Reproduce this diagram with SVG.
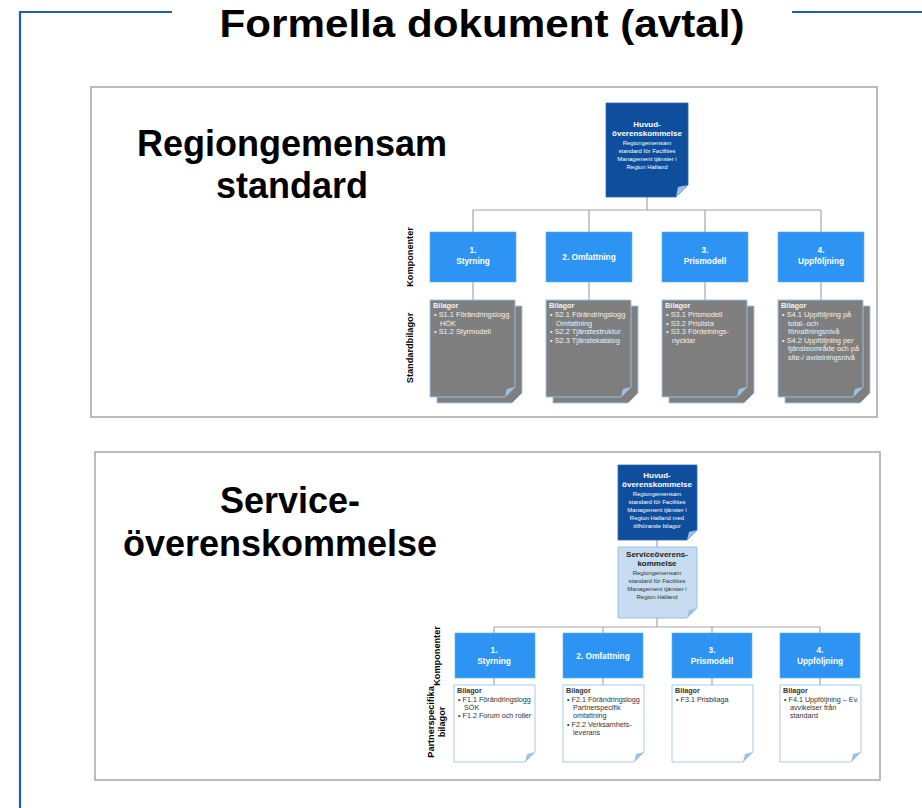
<svg xmlns="http://www.w3.org/2000/svg" width="922" height="808" viewBox="0 0 922 808">
<style>
text{font-family:"Liberation Sans",Arial,sans-serif}
.frame{fill:none;stroke:#1F5FAA;stroke-width:2.2}
.panel{fill:#fff;stroke:#A6A6A6;stroke-width:1.5}
.big{font-size:36px;font-weight:bold;fill:#000;text-anchor:middle}
.title{font-size:39px;font-weight:bold;fill:#000;text-anchor:middle}
.conn{fill:none;stroke:#A6A6A6;stroke-width:1.2}
.dark{fill:#0E4E9C;stroke:#2E6DB8;stroke-width:0.8}
.light{fill:#C6DCF0;stroke:#8DB4E2;stroke-width:0.8}
.fold{fill:#9CC2E8}
.comp{fill:#2E94F4;stroke:#5AAEF8;stroke-width:0.6}
.ct{font-size:8.3px;font-weight:bold;fill:#fff;text-anchor:middle}
.gray{fill:#7F7F7F;stroke:#9DC3E6;stroke-width:0.9}
.white{fill:#fff;stroke:#9DC3E6;stroke-width:0.9}
.gt{font-size:7.4px;fill:#F2F2F2}
.gtb{font-size:7.4px;fill:#F2F2F2;font-weight:bold}
.wt{font-size:7.2px;fill:#333}
.wtb{font-size:7.2px;fill:#333;font-weight:bold}
.mt1{font-size:8px;font-weight:bold;fill:#fff;text-anchor:middle}
.mt2{font-size:6px;fill:#fff;text-anchor:middle}
.lt1{font-size:8px;font-weight:bold;fill:#222;text-anchor:middle}
.lt2{font-size:6px;fill:#333;text-anchor:middle}
.side{font-size:9.2px;font-weight:bold;fill:#000;text-anchor:middle}
</style>

<path class="frame" d="M172,12 H20 V808 M792,12 H922"/>
<text class="title" x="482" y="37" textLength="525" lengthAdjust="spacingAndGlyphs">Formella dokument (avtal)</text>

<rect class="panel" x="91" y="87" width="786" height="330"/>
<rect class="panel" x="95" y="452" width="785" height="328"/>

<text class="big" x="292" y="156">Regiongemensam</text>
<text class="big" x="292" y="198">standard</text>
<text class="big" x="290" y="513" font-size="37">Service-</text>
<text class="big" x="280" y="556" font-size="38">överenskommelse</text>

<text class="side" transform="translate(413,257) rotate(-90)">Komponenter</text>
<text class="side" transform="translate(413,348) rotate(-90)" font-size="9.8">Standardbilagor</text>
<text class="side" transform="translate(440,656) rotate(-90)">Komponenter</text>
<text class="side" transform="translate(434,722) rotate(-90)" font-size="9.8">Partnerspecifika</text>
<text class="side" transform="translate(445,722) rotate(-90)" font-size="9.8">bilagor</text>

<g id="connectors">
<path class="conn" d="M647,197 V210 M473,210 H821 M473,210 V232 M589,210 V232 M705,210 V232 M821,210 V232"/>
<path class="conn" d="M473,282 V300 M589,282 V300 M705,282 V300 M821,282 V300"/>
<path class="conn" d="M657,540 V547 M657,618 V627 M494,627 H820 M494,627 V633 M603,627 V633 M712,627 V633 M820,627 V633"/>
<path class="conn" d="M494,678 V685 M603,678 V685 M712,678 V685 M820,678 V685"/>
</g>

<g id="main1">
<path class="dark" d="M606,103 H688 V185 L676,197 H606 Z"/>
<path class="fold" d="M676,197 L688,185 L678,187 Z"/>
<text class="mt1" x="647" y="127">Huvud-</text>
<text class="mt1" x="647" y="136">överenskommelse</text>
<text class="mt2" x="647" y="145">Regiongemensam</text>
<text class="mt2" x="647" y="153">standard för Facilities</text>
<text class="mt2" x="647" y="161">Management tjänster i</text>
<text class="mt2" x="647" y="169">Region Halland</text>
</g>

<g id="comp1-1"><rect class="comp" x="430" y="232" width="86" height="50"/><text class="ct" x="473" y="253">1.</text><text class="ct" x="473" y="264">Styrning</text></g>
<g id="comp1-2"><rect class="comp" x="546" y="232" width="86" height="50"/><text class="ct" x="589" y="260">2. Omfattning</text></g>
<g id="comp1-3"><rect class="comp" x="662" y="232" width="86" height="50"/><text class="ct" x="705" y="253">3.</text><text class="ct" x="705" y="264">Prismodell</text></g>
<g id="comp1-4"><rect class="comp" x="778" y="232" width="86" height="50"/><text class="ct" x="821" y="253">4.</text><text class="ct" x="821" y="264">Uppföljning</text></g>

<g id="std1">
<path class="gray" d="M437,306 H522 V393 L512,403 H437 Z"/>
<path class="gray" d="M430,300 H515 V387 L505,397 H430 Z"/>
<path class="fold" d="M505,397 L515,387 L507,389 Z"/>
<text class="gtb" x="433" y="308">Bilagor</text>
<text class="gt" x="434" y="317">•  S1.1 Förändringslogg</text>
<text class="gt" x="440" y="325.5">HÖK</text>
<text class="gt" x="434" y="334">•  S1.2 Styrmodell</text>
</g>
<g id="std2">
<path class="gray" d="M553,306 H638 V393 L628,403 H553 Z"/>
<path class="gray" d="M546,300 H631 V387 L621,397 H546 Z"/>
<path class="fold" d="M621,397 L631,387 L623,389 Z"/>
<text class="gtb" x="549" y="308">Bilagor</text>
<text class="gt" x="550" y="317">•  S2.1 Förändringslogg</text>
<text class="gt" x="556" y="325.5">Omfattning</text>
<text class="gt" x="550" y="334">•  S2.2 Tjänstestruktur</text>
<text class="gt" x="550" y="342.5">•  S2.3 Tjänstekatalog</text>
</g>
<g id="std3">
<path class="gray" d="M669,306 H754 V393 L744,403 H669 Z"/>
<path class="gray" d="M662,300 H747 V387 L737,397 H662 Z"/>
<path class="fold" d="M737,397 L747,387 L739,389 Z"/>
<text class="gtb" x="665" y="308">Bilagor</text>
<text class="gt" x="666" y="317">•  S3.1 Prismodell</text>
<text class="gt" x="666" y="325.5">•  S3.2 Prislista</text>
<text class="gt" x="666" y="334">•  S3.3 Fördelnings-</text>
<text class="gt" x="672" y="342.5">nycklar</text>
</g>
<g id="std4">
<path class="gray" d="M785,306 H870 V393 L860,403 H785 Z"/>
<path class="gray" d="M778,300 H863 V387 L853,397 H778 Z"/>
<path class="fold" d="M853,397 L863,387 L855,389 Z"/>
<text class="gtb" x="781" y="308">Bilagor</text>
<text class="gt" x="782" y="317">•  S4.1 Uppföljning på</text>
<text class="gt" x="788" y="325.5">total- och</text>
<text class="gt" x="788" y="334">förvaltningsnivå</text>
<text class="gt" x="782" y="342.5">•  S4.2 Uppföljning per</text>
<text class="gt" x="788" y="351">tjänsteområde och på</text>
<text class="gt" x="788" y="359.5">site-/ avdelningsnivå</text>
</g>

<g id="main2">
<path class="dark" d="M618,465 H697 V530 L687,540 H618 Z"/>
<path class="fold" d="M687,540 L697,530 L689,532 Z"/>
<text class="mt1" x="657" y="478">Huvud-</text>
<text class="mt1" x="657" y="487">överenskommelse</text>
<text class="mt2" x="657" y="496">Regiongemensam</text>
<text class="mt2" x="657" y="504">standard för Facilities</text>
<text class="mt2" x="657" y="512">Management tjänster i</text>
<text class="mt2" x="657" y="520">Region Halland med</text>
<text class="mt2" x="657" y="528">tillhörande bilagor</text>
</g>
<g id="service">
<path class="light" d="M618,547 H697 V608 L687,618 H618 Z"/>
<path class="fold" d="M687,618 L697,608 L689,610 Z"/>
<text class="lt1" x="657" y="557">Serviceöverens-</text>
<text class="lt1" x="657" y="566">kommelse</text>
<text class="lt2" x="657" y="575">Regiongemensam</text>
<text class="lt2" x="657" y="583">standard för Facilities</text>
<text class="lt2" x="657" y="591">Management tjänster i</text>
<text class="lt2" x="657" y="599">Region Halland</text>
</g>

<g id="comp2-1"><rect class="comp" x="455" y="633" width="80" height="45"/><text class="ct" x="494" y="653">1.</text><text class="ct" x="494" y="664">Styrning</text></g>
<g id="comp2-2"><rect class="comp" x="563" y="633" width="80" height="45"/><text class="ct" x="603" y="659">2. Omfattning</text></g>
<g id="comp2-3"><rect class="comp" x="672" y="633" width="80" height="45"/><text class="ct" x="712" y="653">3.</text><text class="ct" x="712" y="664">Prismodell</text></g>
<g id="comp2-4"><rect class="comp" x="780" y="633" width="80" height="45"/><text class="ct" x="820" y="653">4.</text><text class="ct" x="820" y="664">Uppföljning</text></g>

<g id="ps1">
<path class="white" d="M454,685 H535 V752 L525,762 H454 Z"/>
<path class="fold" d="M525,762 L535,752 L527,754 Z"/>
<text class="wtb" x="457" y="693">Bilagor</text>
<text class="wt" x="458" y="701.5">•  F1.1 Förändringslogg</text>
<text class="wt" x="464" y="709.5">SÖK</text>
<text class="wt" x="458" y="718">•  F1.2 Forum och roller</text>
</g>
<g id="ps2">
<path class="white" d="M563,685 H644 V752 L634,762 H563 Z"/>
<path class="fold" d="M634,762 L644,752 L636,754 Z"/>
<text class="wtb" x="566" y="693">Bilagor</text>
<text class="wt" x="567" y="701.5">•  F2.1 Förändringslogg</text>
<text class="wt" x="573" y="709.5">Partnerspecifik</text>
<text class="wt" x="573" y="718">omfattning</text>
<text class="wt" x="567" y="726.5">•  F2.2 Verksamhets-</text>
<text class="wt" x="573" y="735">leverans</text>
</g>
<g id="ps3">
<path class="white" d="M672,685 H753 V752 L743,762 H672 Z"/>
<path class="fold" d="M743,762 L753,752 L745,754 Z"/>
<text class="wtb" x="675" y="693">Bilagor</text>
<text class="wt" x="676" y="701.5">•  F3.1 Prisbilaga</text>
</g>
<g id="ps4">
<path class="white" d="M780,685 H861 V752 L851,762 H780 Z"/>
<path class="fold" d="M851,762 L861,752 L853,754 Z"/>
<text class="wtb" x="783" y="693">Bilagor</text>
<text class="wt" x="784" y="701.5">•  F4.1 Uppföljning – Ev.</text>
<text class="wt" x="790" y="709.5">avvikelser från</text>
<text class="wt" x="790" y="718">standard</text>
</g>
</svg>
